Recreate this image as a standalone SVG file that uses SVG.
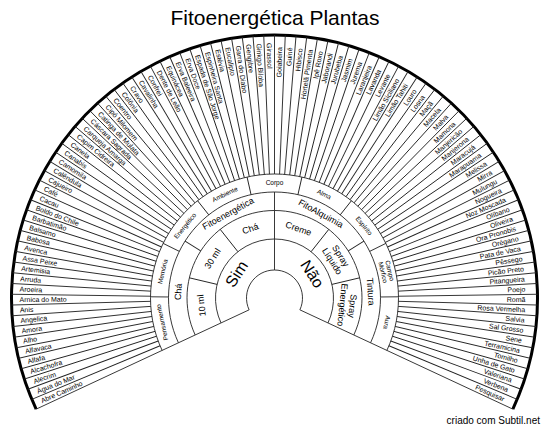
<svg xmlns="http://www.w3.org/2000/svg" width="550" height="430" viewBox="0 0 550 430">
<style>
text{font-family:"Liberation Sans",Arial,sans-serif;fill:#000}
.o{font-size:7px}
.e{text-anchor:end}
.t4{font-size:6.5px;text-anchor:middle}
.t3{font-size:9px;text-anchor:middle}
.t2{font-size:9px;text-anchor:middle}
.t1{font-size:16px;text-anchor:middle}
.ln{stroke:#222;stroke-width:0.9;fill:none}
</style>
<defs><line id="sp" x1="124" y1="0" x2="263" y2="0"/></defs>
<rect width="550" height="430" fill="#fff"/>
<text x="275" y="25" font-size="21" text-anchor="middle">Fitoenergética Plantas</text>
<g id="connectors" class="ln" transform="translate(274.5,298)">
<path d="M-25.377 11.833A28 28 0 1 1 25.377 11.833"/>
<path d="M-53.472 24.934A59 59 0 1 1 53.472 24.934"/>
<path d="M-79.301 36.978A87.5 87.5 0 1 1 79.301 36.978"/>
<path d="M-96.068 44.796A106 106 0 1 1 96.068 44.796"/>
<path d="M-112.381 52.402A124 124 0 1 1 112.381 52.402"/>
<path d="M-238.357 111.144A263 263 0 1 1 238.357 111.144" stroke="#000" stroke-width="3"/>
<path d="M-25.377 11.833L-238.357 111.144M25.377 11.833L238.357 111.144"/>
<line x1="28" x2="59" transform="rotate(270)"/>
<line x1="59" x2="87.5" transform="rotate(193.333)"/>
<line x1="59" x2="87.5" transform="rotate(231.667)"/>
<line x1="59" x2="87.5" transform="rotate(270)"/>
<line x1="59" x2="87.5" transform="rotate(308.333)"/>
<line x1="59" x2="87.5" transform="rotate(346.667)"/>
<line x1="87.5" x2="106" transform="rotate(212.5)"/>
<line x1="87.5" x2="106" transform="rotate(270)"/>
<line x1="87.5" x2="106" transform="rotate(327.5)"/>
<line x1="106" x2="124" transform="rotate(180.556)"/>
<line x1="106" x2="124" transform="rotate(206.111)"/>
<line x1="106" x2="124" transform="rotate(231.667)"/>
<line x1="106" x2="124" transform="rotate(257.222)"/>
<line x1="106" x2="124" transform="rotate(282.778)"/>
<line x1="106" x2="124" transform="rotate(308.333)"/>
<line x1="106" x2="124" transform="rotate(333.889)"/>
<line x1="106" x2="124" transform="rotate(359.444)"/>
<use href="#sp" transform="rotate(157.347)"/><use href="#sp" transform="rotate(159.694)"/><use href="#sp" transform="rotate(162.041)"/><use href="#sp" transform="rotate(164.388)"/><use href="#sp" transform="rotate(166.735)"/>
<use href="#sp" transform="rotate(169.082)"/><use href="#sp" transform="rotate(171.429)"/><use href="#sp" transform="rotate(173.776)"/><use href="#sp" transform="rotate(176.122)"/><use href="#sp" transform="rotate(178.469)"/>
<use href="#sp" transform="rotate(180.816)"/><use href="#sp" transform="rotate(183.163)"/><use href="#sp" transform="rotate(185.510)"/><use href="#sp" transform="rotate(187.857)"/><use href="#sp" transform="rotate(190.204)"/>
<use href="#sp" transform="rotate(192.551)"/><use href="#sp" transform="rotate(194.898)"/><use href="#sp" transform="rotate(197.245)"/><use href="#sp" transform="rotate(199.592)"/><use href="#sp" transform="rotate(201.939)"/>
<use href="#sp" transform="rotate(204.286)"/><use href="#sp" transform="rotate(206.633)"/><use href="#sp" transform="rotate(208.980)"/><use href="#sp" transform="rotate(211.327)"/><use href="#sp" transform="rotate(213.673)"/>
<use href="#sp" transform="rotate(216.020)"/><use href="#sp" transform="rotate(218.367)"/><use href="#sp" transform="rotate(220.714)"/><use href="#sp" transform="rotate(223.061)"/><use href="#sp" transform="rotate(225.408)"/>
<use href="#sp" transform="rotate(227.755)"/><use href="#sp" transform="rotate(230.102)"/><use href="#sp" transform="rotate(232.449)"/><use href="#sp" transform="rotate(234.796)"/><use href="#sp" transform="rotate(237.143)"/>
<use href="#sp" transform="rotate(239.490)"/><use href="#sp" transform="rotate(241.837)"/><use href="#sp" transform="rotate(244.184)"/><use href="#sp" transform="rotate(246.531)"/><use href="#sp" transform="rotate(248.878)"/>
<use href="#sp" transform="rotate(251.224)"/><use href="#sp" transform="rotate(253.571)"/><use href="#sp" transform="rotate(255.918)"/><use href="#sp" transform="rotate(258.265)"/><use href="#sp" transform="rotate(260.612)"/>
<use href="#sp" transform="rotate(262.959)"/><use href="#sp" transform="rotate(265.306)"/><use href="#sp" transform="rotate(267.653)"/><use href="#sp" transform="rotate(270)"/><use href="#sp" transform="rotate(272.347)"/>
<use href="#sp" transform="rotate(274.694)"/><use href="#sp" transform="rotate(277.041)"/><use href="#sp" transform="rotate(279.388)"/><use href="#sp" transform="rotate(281.735)"/><use href="#sp" transform="rotate(284.082)"/>
<use href="#sp" transform="rotate(286.429)"/><use href="#sp" transform="rotate(288.776)"/><use href="#sp" transform="rotate(291.122)"/><use href="#sp" transform="rotate(293.469)"/><use href="#sp" transform="rotate(295.816)"/>
<use href="#sp" transform="rotate(298.163)"/><use href="#sp" transform="rotate(300.510)"/><use href="#sp" transform="rotate(302.857)"/><use href="#sp" transform="rotate(305.204)"/><use href="#sp" transform="rotate(307.551)"/>
<use href="#sp" transform="rotate(309.898)"/><use href="#sp" transform="rotate(312.245)"/><use href="#sp" transform="rotate(314.592)"/><use href="#sp" transform="rotate(316.939)"/><use href="#sp" transform="rotate(319.286)"/>
<use href="#sp" transform="rotate(321.633)"/><use href="#sp" transform="rotate(323.980)"/><use href="#sp" transform="rotate(326.327)"/><use href="#sp" transform="rotate(328.673)"/><use href="#sp" transform="rotate(331.020)"/>
<use href="#sp" transform="rotate(333.367)"/><use href="#sp" transform="rotate(335.714)"/><use href="#sp" transform="rotate(338.061)"/><use href="#sp" transform="rotate(340.408)"/><use href="#sp" transform="rotate(342.755)"/>
<use href="#sp" transform="rotate(345.102)"/><use href="#sp" transform="rotate(347.449)"/><use href="#sp" transform="rotate(349.796)"/><use href="#sp" transform="rotate(352.143)"/><use href="#sp" transform="rotate(354.490)"/>
<use href="#sp" transform="rotate(356.837)"/><use href="#sp" transform="rotate(359.184)"/><use href="#sp" transform="rotate(1.531)"/><use href="#sp" transform="rotate(3.878)"/><use href="#sp" transform="rotate(6.225)"/>
<use href="#sp" transform="rotate(8.571)"/><use href="#sp" transform="rotate(10.918)"/><use href="#sp" transform="rotate(13.265)"/><use href="#sp" transform="rotate(15.612)"/><use href="#sp" transform="rotate(17.959)"/>
<use href="#sp" transform="rotate(20.306)"/><use href="#sp" transform="rotate(22.653)"/>
</g>
<g id="rings" transform="translate(274.5,298)">
<g id="sim"><text class="t1" transform="rotate(-57.5)" y="-45" dy=".35em">Sim</text></g>
<g id="nao"><text class="t1" transform="rotate(57.5)" y="-45" dy=".35em">Não</text></g>
<g id="ml10"><text class="t2" transform="rotate(-95.833)" y="-73.5" dy=".35em">10 ml</text></g>
<g id="ml30"><text class="t2" transform="rotate(-57.5)" y="-73.5" dy=".35em">30 ml</text></g>
<g id="cha2"><text class="t2" transform="rotate(-19.167)" y="-73.5" dy=".35em">Chá</text></g>
<g id="creme"><text class="t2" transform="rotate(19.167)" y="-73.5" dy=".35em">Creme</text></g>
<g id="spray-liquido"><text class="t2" transform="rotate(57.5)" y="-78.5" dy=".35em">Spray</text><text class="t2" transform="rotate(57.5)" y="-68.5" dy=".35em">Líquido</text></g>
<g id="spray-energetico"><text class="t2" transform="rotate(95.833)" y="-78.5" dy=".35em">Spray</text><text class="t2" transform="rotate(95.833)" y="-68.5" dy=".35em">Energético</text></g>
<g id="cha3"><text class="t3" transform="rotate(-86.25)" y="-96.5" dy=".35em">Chá</text></g>
<g id="fitoenergetica"><text class="t3" transform="rotate(-28.75)" y="-96.5" dy=".35em">Fitoenergética</text></g>
<g id="fitoalquimia"><text class="t3" transform="rotate(28.75)" y="-96.5" dy=".35em">FitoAlquimia</text></g>
<g id="tintura"><text class="t3" transform="rotate(86.25)" y="-96.5" dy=".35em">Tintura</text></g>
<g id="pensamento"><text class="t4" transform="rotate(-102.222)" y="-115" dy=".35em">Pensamento</text></g>
<g id="memoria"><text class="t4" transform="rotate(-76.667)" y="-115" dy=".35em">Memória</text></g>
<g id="energetico"><text class="t4" transform="rotate(-51.111)" y="-115" dy=".35em">Energético</text></g>
<g id="ambiente"><text class="t4" transform="rotate(-25.556)" y="-115" dy=".35em">Ambiente</text></g>
<g id="corpo"><text class="t4" y="-115" dy=".35em">Corpo</text></g>
<g id="alma"><text class="t4" transform="rotate(25.556)" y="-115" dy=".35em">Alma</text></g>
<g id="espirito"><text class="t4" transform="rotate(51.111)" y="-115" dy=".35em">Espírito</text></g>
<g id="campo-morfico"><text class="t4" transform="rotate(76.667)" y="-118.5" dy=".35em">Campo</text><text class="t4" transform="rotate(76.667)" y="-111.5" dy=".35em">Mórfico</text></g>
<g id="aura"><text class="t4" transform="rotate(102.222)" y="-115" dy=".35em">Aura</text></g>
</g>
<g id="plants" transform="translate(274.5,298)">
<g id="p00"><text class="o" transform="rotate(-23.827)" x="-255" dy=".35em">Abre Caminho</text></g>
<g id="p01"><text class="o" transform="rotate(-21.480)" x="-255" dy=".35em">Água do Mar</text></g>
<g id="p02"><text class="o" transform="rotate(-19.133)" x="-255" dy=".35em">Alecrim</text></g>
<g id="p03"><text class="o" transform="rotate(-16.786)" x="-255" dy=".35em">Alcachofra</text></g>
<g id="p04"><text class="o" transform="rotate(-14.439)" x="-255" dy=".35em">Alfafa</text></g>
<g id="p05"><text class="o" transform="rotate(-12.092)" x="-255" dy=".35em">Alfavaca</text></g>
<g id="p06"><text class="o" transform="rotate(-9.745)" x="-255" dy=".35em">Alho</text></g>
<g id="p07"><text class="o" transform="rotate(-7.398)" x="-255" dy=".35em">Amora</text></g>
<g id="p08"><text class="o" transform="rotate(-5.051)" x="-255" dy=".35em">Angelica</text></g>
<g id="p09"><text class="o" transform="rotate(-2.704)" x="-255" dy=".35em">Anis</text></g>
<g id="p10"><text class="o" transform="rotate(-0.357)" x="-255" dy=".35em">Arnica do Mato</text></g>
<g id="p11"><text class="o" transform="rotate(1.990)" x="-255" dy=".35em">Aroeira</text></g>
<g id="p12"><text class="o" transform="rotate(4.337)" x="-255" dy=".35em">Arruda</text></g>
<g id="p13"><text class="o" transform="rotate(6.684)" x="-255" dy=".35em">Artemisia</text></g>
<g id="p14"><text class="o" transform="rotate(9.031)" x="-255" dy=".35em">Assa Peixe</text></g>
<g id="p15"><text class="o" transform="rotate(11.378)" x="-255" dy=".35em">Avenca</text></g>
<g id="p16"><text class="o" transform="rotate(13.724)" x="-255" dy=".35em">Babosa</text></g>
<g id="p17"><text class="o" transform="rotate(16.071)" x="-255" dy=".35em">Balsamo</text></g>
<g id="p18"><text class="o" transform="rotate(18.418)" x="-255" dy=".35em">Barbatimão</text></g>
<g id="p19"><text class="o" transform="rotate(20.765)" x="-255" dy=".35em">Boldo do Chile</text></g>
<g id="p20"><text class="o" transform="rotate(23.112)" x="-255" dy=".35em">Cacau</text></g>
<g id="p21"><text class="o" transform="rotate(25.459)" x="-255" dy=".35em">Café</text></g>
<g id="p22"><text class="o" transform="rotate(27.806)" x="-255" dy=".35em">Cajueiro</text></g>
<g id="p23"><text class="o" transform="rotate(30.153)" x="-255" dy=".35em">Calêndula</text></g>
<g id="p24"><text class="o" transform="rotate(32.500)" x="-255" dy=".35em">Camomila</text></g>
<g id="p25"><text class="o" transform="rotate(34.847)" x="-255" dy=".35em">Canabis</text></g>
<g id="p26"><text class="o" transform="rotate(37.194)" x="-255" dy=".35em">Canela</text></g>
<g id="p27"><text class="o" transform="rotate(39.541)" x="-255" dy=".35em">Capim Cidreira</text></g>
<g id="p28"><text class="o" transform="rotate(41.888)" x="-255" dy=".35em">Carqueja Amarga</text></g>
<g id="p29"><text class="o" transform="rotate(44.235)" x="-255" dy=".35em">Cáscara Sagrada</text></g>
<g id="p30"><text class="o" transform="rotate(46.582)" x="-255" dy=".35em">Catinga de Mulata</text></g>
<g id="p31"><text class="o" transform="rotate(48.929)" x="-255" dy=".35em">Cipó Milomem</text></g>
<g id="p32"><text class="o" transform="rotate(51.276)" x="-255" dy=".35em">Coentro</text></g>
<g id="p33"><text class="o" transform="rotate(53.622)" x="-255" dy=".35em">Colônia</text></g>
<g id="p34"><text class="o" transform="rotate(55.969)" x="-255" dy=".35em">Cravo</text></g>
<g id="p35"><text class="o" transform="rotate(58.316)" x="-255" dy=".35em">Cavalinha</text></g>
<g id="p36"><text class="o" transform="rotate(60.663)" x="-255" dy=".35em">Confrei</text></g>
<g id="p37"><text class="o" transform="rotate(63.010)" x="-255" dy=".35em">Dente de Leão</text></g>
<g id="p38"><text class="o" transform="rotate(65.357)" x="-255" dy=".35em">Equinácea</text></g>
<g id="p39"><text class="o" transform="rotate(67.704)" x="-255" dy=".35em">Erva Baleeira</text></g>
<g id="p40"><text class="o" transform="rotate(70.051)" x="-255" dy=".35em">Erva Doce</text></g>
<g id="p41"><text class="o" transform="rotate(72.398)" x="-255" dy=".35em">Espada de São Jorge</text></g>
<g id="p42"><text class="o" transform="rotate(74.745)" x="-255" dy=".35em">Espinheira Santa</text></g>
<g id="p43"><text class="o" transform="rotate(77.092)" x="-255" dy=".35em">Estévia</text></g>
<g id="p44"><text class="o" transform="rotate(79.439)" x="-255" dy=".35em">Eucalipto</text></g>
<g id="p45"><text class="o" transform="rotate(81.786)" x="-255" dy=".35em">Garra do Diabo</text></g>
<g id="p46"><text class="o" transform="rotate(84.133)" x="-255" dy=".35em">Gengibre</text></g>
<g id="p47"><text class="o" transform="rotate(86.480)" x="-255" dy=".35em">Ginkgo Biloba</text></g>
<g id="p48"><text class="o" transform="rotate(88.827)" x="-255" dy=".35em">Girassol</text></g>
<g id="p49"><text class="o e" transform="rotate(-88.827)" x="251" dy=".35em">Goiabeira</text></g>
<g id="p50"><text class="o e" transform="rotate(-86.480)" x="251" dy=".35em">Guiné</text></g>
<g id="p51"><text class="o e" transform="rotate(-84.133)" x="251" dy=".35em">Hibisco</text></g>
<g id="p52"><text class="o e" transform="rotate(-81.786)" x="251" dy=".35em">Hortelã Pimenta</text></g>
<g id="p53"><text class="o e" transform="rotate(-79.439)" x="251" dy=".35em">Ipê Roxo</text></g>
<g id="p54"><text class="o e" transform="rotate(-77.092)" x="251" dy=".35em">Jaborandi</text></g>
<g id="p55"><text class="o e" transform="rotate(-74.745)" x="251" dy=".35em">Jurubeba</text></g>
<g id="p56"><text class="o e" transform="rotate(-72.398)" x="251" dy=".35em">Jasmim</text></g>
<g id="p57"><text class="o e" transform="rotate(-70.051)" x="251" dy=".35em">Jurema</text></g>
<g id="p58"><text class="o e" transform="rotate(-67.704)" x="251" dy=".35em">Laranjeira</text></g>
<g id="p59"><text class="o e" transform="rotate(-65.357)" x="251" dy=".35em">Lavanda</text></g>
<g id="p60"><text class="o e" transform="rotate(-63.010)" x="251" dy=".35em">Levante</text></g>
<g id="p61"><text class="o e" transform="rotate(-60.663)" x="251" dy=".35em">Limão Siciliano</text></g>
<g id="p62"><text class="o e" transform="rotate(-58.316)" x="251" dy=".35em">Limão Tahiti</text></g>
<g id="p63"><text class="o e" transform="rotate(-55.969)" x="251" dy=".35em">Louro</text></g>
<g id="p64"><text class="o e" transform="rotate(-53.622)" x="251" dy=".35em">Losna</text></g>
<g id="p65"><text class="o e" transform="rotate(-51.276)" x="251" dy=".35em">Maçã</text></g>
<g id="p66"><text class="o e" transform="rotate(-48.929)" x="251" dy=".35em">Macela</text></g>
<g id="p67"><text class="o e" transform="rotate(-46.582)" x="251" dy=".35em">Malva</text></g>
<g id="p68"><text class="o e" transform="rotate(-44.235)" x="251" dy=".35em">Mamona</text></g>
<g id="p69"><text class="o e" transform="rotate(-41.888)" x="251" dy=".35em">Manjericão</text></g>
<g id="p70"><text class="o e" transform="rotate(-39.541)" x="251" dy=".35em">Manjerona</text></g>
<g id="p71"><text class="o e" transform="rotate(-37.194)" x="251" dy=".35em">Maracujá</text></g>
<g id="p72"><text class="o e" transform="rotate(-34.847)" x="251" dy=".35em">Marapuama</text></g>
<g id="p73"><text class="o e" transform="rotate(-32.500)" x="251" dy=".35em">Melissa</text></g>
<g id="p74"><text class="o e" transform="rotate(-30.153)" x="251" dy=".35em">Mirra</text></g>
<g id="p75"><text class="o e" transform="rotate(-27.806)" x="251" dy=".35em">Mulungu</text></g>
<g id="p76"><text class="o e" transform="rotate(-25.459)" x="251" dy=".35em">Nogueira</text></g>
<g id="p77"><text class="o e" transform="rotate(-23.112)" x="251" dy=".35em">Noz Moscada</text></g>
<g id="p78"><text class="o e" transform="rotate(-20.765)" x="251" dy=".35em">Olíbano</text></g>
<g id="p79"><text class="o e" transform="rotate(-18.418)" x="251" dy=".35em">Oliveira</text></g>
<g id="p80"><text class="o e" transform="rotate(-16.071)" x="251" dy=".35em">Ora Pronobis</text></g>
<g id="p81"><text class="o e" transform="rotate(-13.724)" x="251" dy=".35em">Orégano</text></g>
<g id="p82"><text class="o e" transform="rotate(-11.378)" x="251" dy=".35em">Pata de Vaca</text></g>
<g id="p83"><text class="o e" transform="rotate(-9.031)" x="251" dy=".35em">Pêssego</text></g>
<g id="p84"><text class="o e" transform="rotate(-6.684)" x="251" dy=".35em">Picão Preto</text></g>
<g id="p85"><text class="o e" transform="rotate(-4.337)" x="251" dy=".35em">Pitangueira</text></g>
<g id="p86"><text class="o e" transform="rotate(-1.990)" x="251" dy=".35em">Poejo</text></g>
<g id="p87"><text class="o e" transform="rotate(0.357)" x="251" dy=".35em">Romã</text></g>
<g id="p88"><text class="o e" transform="rotate(2.704)" x="251" dy=".35em">Rosa Vermelha</text></g>
<g id="p89"><text class="o e" transform="rotate(5.051)" x="251" dy=".35em">Salvia</text></g>
<g id="p90"><text class="o e" transform="rotate(7.398)" x="251" dy=".35em">Sal Grosso</text></g>
<g id="p91"><text class="o e" transform="rotate(9.745)" x="251" dy=".35em">Sene</text></g>
<g id="p92"><text class="o e" transform="rotate(12.092)" x="251" dy=".35em">Terramicina</text></g>
<g id="p93"><text class="o e" transform="rotate(14.439)" x="251" dy=".35em">Tomilho</text></g>
<g id="p94"><text class="o e" transform="rotate(16.786)" x="251" dy=".35em">Unha de Gato</text></g>
<g id="p95"><text class="o e" transform="rotate(19.133)" x="251" dy=".35em">Valeriana</text></g>
<g id="p96"><text class="o e" transform="rotate(21.480)" x="251" dy=".35em">Verbena</text></g>
<g id="p97"><text class="o e" transform="rotate(23.827)" x="251" dy=".35em">Pesquisar</text></g>
</g>
<text x="540" y="424" font-size="10" fill="#888" text-anchor="end">criado com Subtil.net</text>
</svg>
